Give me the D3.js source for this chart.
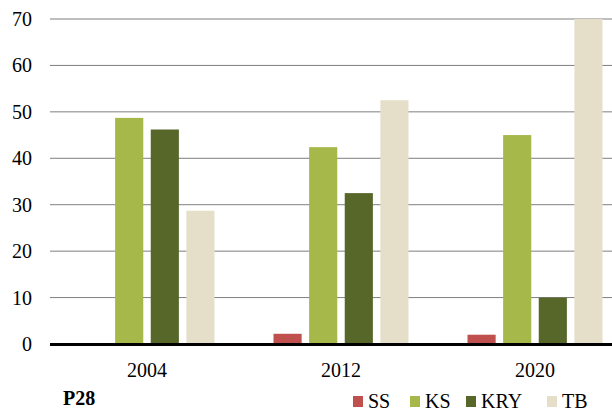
<!DOCTYPE html>
<html>
<head>
<meta charset="utf-8">
<script src="https://cdn.jsdelivr.net/npm/d3@7"></script>
<style>
  body { margin: 0; background: #fff; }
  #chart text { font-family: 'Liberation Serif', 'Times New Roman', Times, 'DejaVu Serif', serif; }
</style>
</head>
<body>
<svg id="chart" width="612" height="411"></svg>
<script>
// chart data
const years = ["2004", "2012", "2020"];
const seriesNames = ["SS", "KS", "KRY", "TB"];
const ssValues = [0, 2.2, 2.0];
const ksValues = [48.7, 42.4, 45.0];
const kryValues = [46.2, 32.5, 10.0];
const tbValues = [28.7, 52.5, 70.0];
const yTicks = [0, 10, 20, 30, 40, 50, 60, 70];
const colors = ["#c0504d", "#a6b84a", "#576629", "#e5dfca"];

const allValues = [ssValues, ksValues, kryValues, tbValues];

const svg = d3.select("#chart");

// scales
const x = d3.scaleBand()
    .domain(years)
    .range([50, 632]);

const xInner = d3.scaleBand()
    .domain(seriesNames)
    .range([29.5, 194 - 29.5])
    .paddingInner(0.21)
    .paddingOuter(0);

const y = d3.scaleLinear()
    .domain([0, 70])
    .range([344, 19]);

// gridlines
svg.append("g")
    .selectAll("line")
    .data(yTicks.filter(d => d > 0))
    .enter()
    .append("line")
    .attr("x1", 50)
    .attr("x2", 612)
    .attr("y1", d => y(d))
    .attr("y2", d => y(d))
    .attr("stroke", "#7f7f7f")
    .attr("stroke-width", 1);

// y tick labels
svg.append("g")
    .selectAll("text")
    .data(yTicks)
    .enter()
    .append("text")
    .attr("x", 32)
    .attr("y", d => y(d))
    .attr("dy", "0.35em")
    .attr("text-anchor", "end")
    .attr("font-size", 20)
    .attr("fill", "#000")
    .text(d => d);

// bars
const groups = svg.append("g")
    .selectAll("g")
    .data(years)
    .enter()
    .append("g")
    .attr("transform", d => "translate(" + x(d) + ",0)");

groups.selectAll("rect")
    .data((d, i) => seriesNames.map((s, j) => ({ series: s, value: allValues[j][i], color: colors[j] })))
    .enter()
    .append("rect")
    .attr("x", d => xInner(d.series))
    .attr("width", xInner.bandwidth())
    .attr("y", d => y(d.value))
    .attr("height", d => y(0) - y(d.value))
    .attr("fill", d => d.color);

// x axis line
svg.append("line")
    .attr("x1", 50)
    .attr("x2", 612)
    .attr("y1", y(0) + 0.5)
    .attr("y2", y(0) + 0.5)
    .attr("stroke", "#000")
    .attr("stroke-width", 3);

// x labels
svg.append("g")
    .selectAll("text")
    .data(years)
    .enter()
    .append("text")
    .attr("x", d => x(d) + x.bandwidth() / 2)
    .attr("y", 377)
    .attr("text-anchor", "middle")
    .attr("font-size", 20)
    .text(d => d);

// footer label
svg.append("text")
    .attr("x", 63)
    .attr("y", 405)
    .attr("font-size", 20)
    .attr("font-weight", "bold")
    .text("P28");

// legend
const legendX = [353, 410, 466, 547];
const legend = svg.append("g")
    .selectAll("g")
    .data(seriesNames)
    .enter()
    .append("g")
    .attr("transform", (d, i) => "translate(" + legendX[i] + ",396)");

legend.append("rect")
    .attr("width", 10)
    .attr("height", 11)
    .attr("fill", (d, i) => colors[i]);

legend.append("text")
    .attr("x", 15)
    .attr("y", 12)
    .attr("font-size", 20)
    .text(d => d);
</script>
</body>
</html>
